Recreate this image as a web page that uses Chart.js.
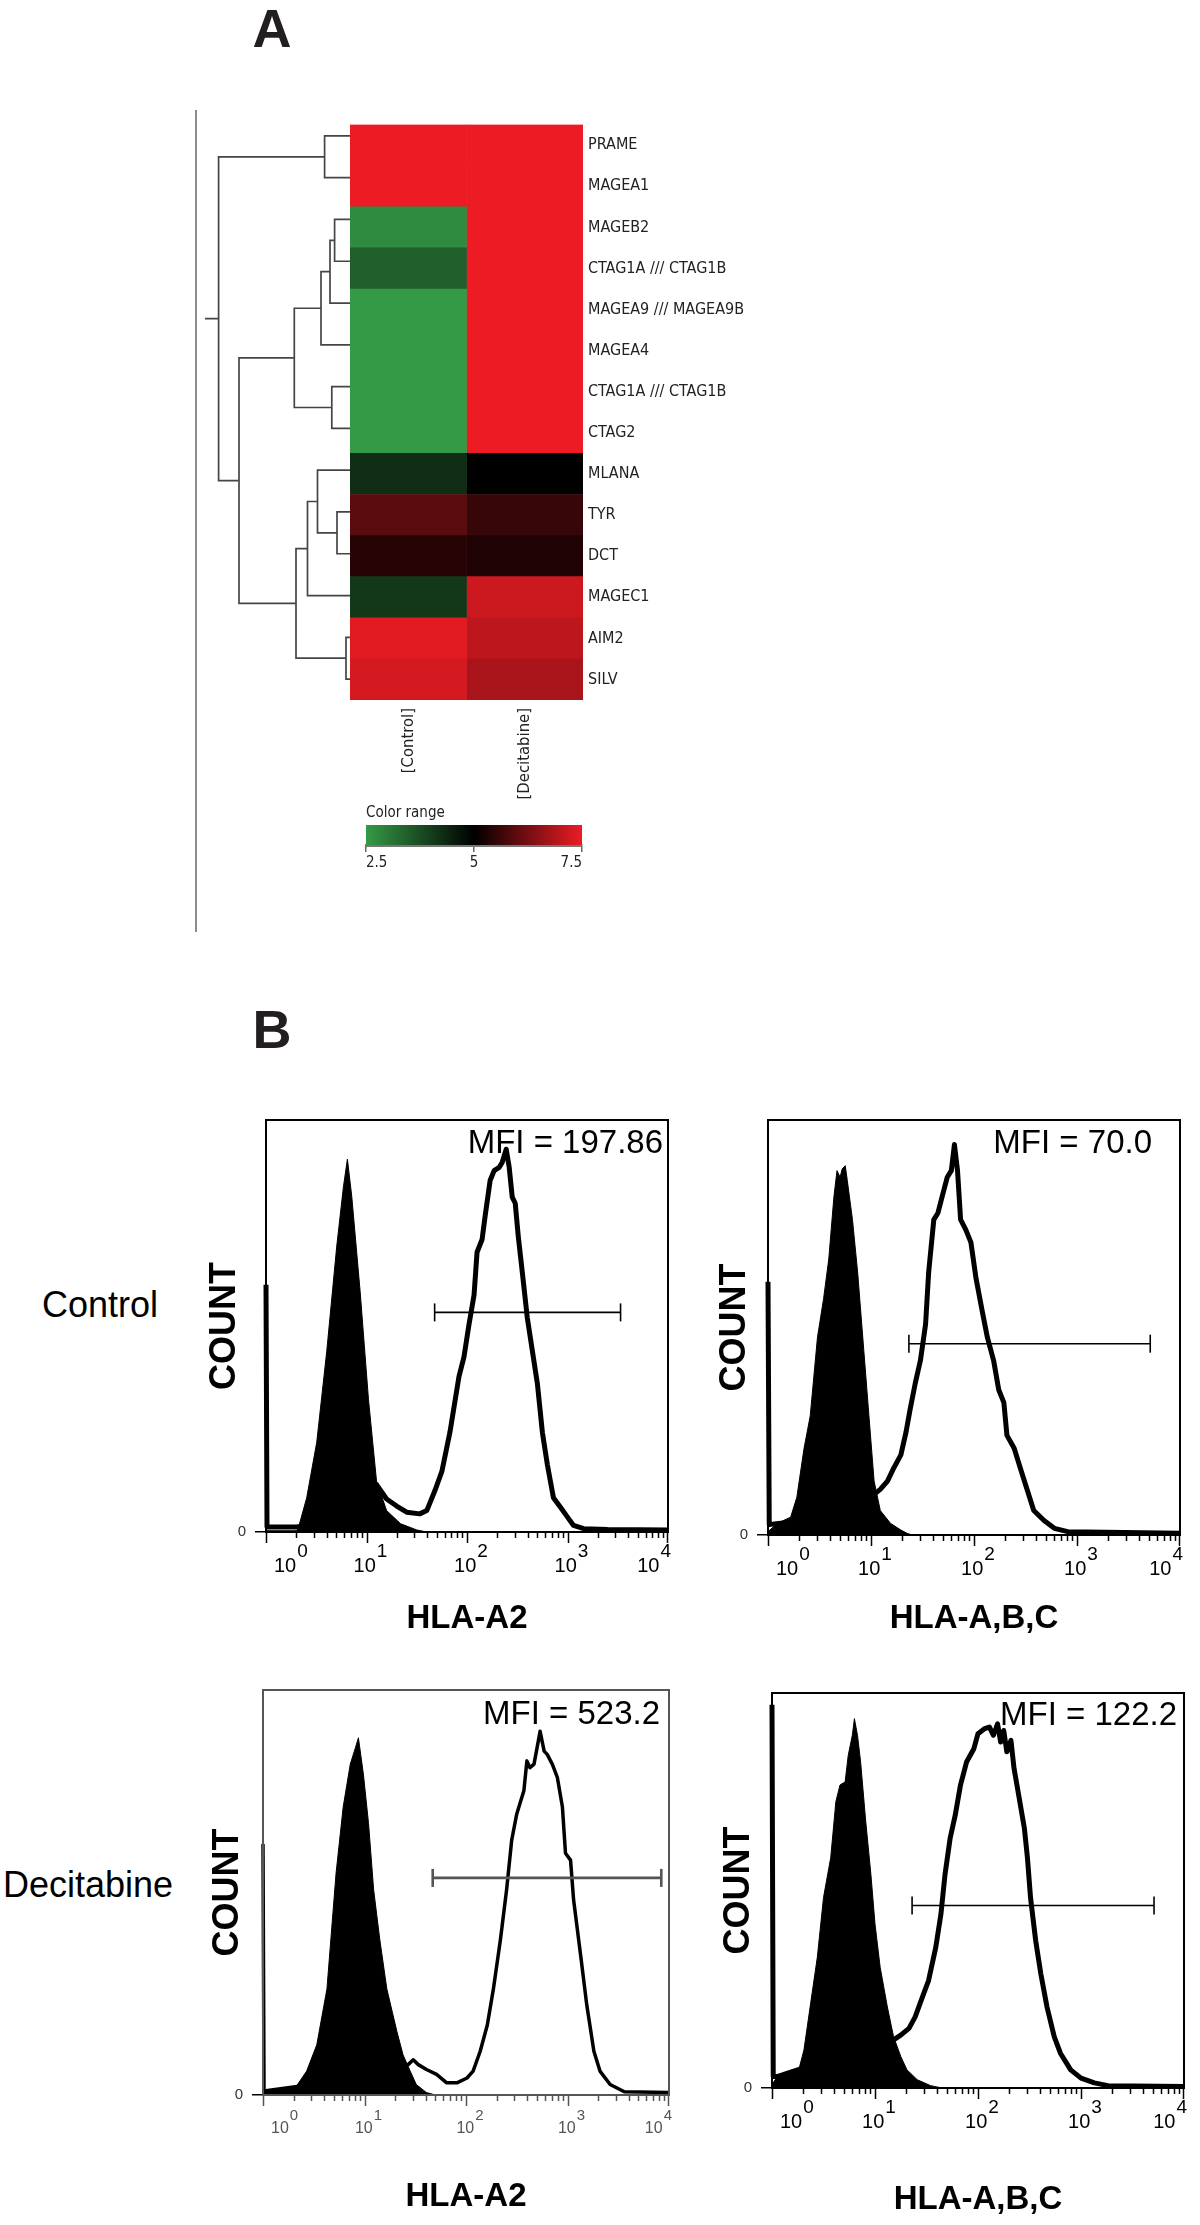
<!DOCTYPE html>
<html><head><meta charset="utf-8">
<script src="https://cdn.jsdelivr.net/npm/chart.js@4.4.1/dist/chart.umd.min.js"></script>
<style>
html,body{margin:0;padding:0;background:#fff;}
body{width:1200px;height:2225px;position:relative;overflow:hidden;font-family:"Liberation Sans",Arial,sans-serif;}
.letter{position:absolute;font-weight:bold;font-size:54px;line-height:54px;width:80px;text-align:center;color:#231f20;}
.rowlab{position:absolute;font-size:36px;line-height:36px;color:#000;white-space:nowrap;}
</style></head><body>
<div class="letter" style="left:232px;top:1px;">A</div>
<div class="letter" style="left:232px;top:1002px;">B</div>
<div style="position:absolute;left:195px;top:110px;width:2px;height:822px;background:#8c8c8c;"></div>
<div class="rowlab" style="left:42px;top:1287px;">Control</div>
<div class="rowlab" style="left:3px;top:1867px;">Decitabine</div>
<script>
// ---------------- Panel A data ----------------
const genes = ['PRAME','MAGEA1','MAGEB2','CTAG1A /// CTAG1B','MAGEA9 /// MAGEA9B','MAGEA4','CTAG1A /// CTAG1B','CTAG2','MLANA','TYR','DCT','MAGEC1','AIM2','SILV'];
const conditions = ['[Control]','[Decitabine]'];
const controlExpr    = [7.5, 7.5, 2.75, 3.45, 2.5, 2.5, 2.5, 2.5, 4.25, 5.95, 5.4, 4.1, 7.38, 7.25];
const decitabineExpr = [7.5, 7.5, 7.5, 7.5, 7.5, 7.5, 7.5, 7.5, 5.0, 5.58, 5.34, 7.15, 7.0, 6.77];
const colorRangeTicks = [2.5, 5, 7.5];
// hierarchical clustering merges: [nodeA, nodeB, distance]; leaves 0..13, new nodes numbered from 14
const dendroMerges = [
  [0, 1, 25.4], [2, 3, 15.4], [15, 4, 20], [16, 5, 29], [6, 7, 18.2], [17, 18, 55.7],
  [9, 10, 13], [8, 20, 32.5], [21, 11, 42.5], [12, 13, 4], [22, 23, 54], [19, 24, 111], [14, 25, 131.4]
];
const dendroRootStub = 145;

// ---------------- Panel B data (x = log10 fluorescence, y = % of max count) ----------------
const decadeValues = [0, 1, 2, 3, 4];
const decadeBase = '10';
const decadeExponents = ['0', '1', '2', '3', '4'];
const countTickLabels = ['0'];
const markerNames = ['HLA-A2','HLA-A,B,C','HLA-A2','HLA-A,B,C'];
const mfiValues = ['197.86','70.0','523.2','122.2'];
const gateStart = [1.678, 1.368, 1.672, 1.360];
const gateEnd   = [3.528, 3.711, 3.924, 3.709];
const gateLevel = [53.3, 46.1, 53.6, 46.2];

const ctrlA2Iso = [[0,0.3],[0.3,0.3],[0.32,0.8],[0.405,8.3],[0.505,21.8],[0.605,44],[0.704,69.4],[0.77,83.7],[0.81,90.5],[0.854,81.3],[0.937,58.3],[1.02,32.1],[1.10,12.3],[1.20,5.2],[1.34,2],[1.50,0.5],[1.6,0]];
const ctrlA2Stain = [[0,60],[0.01,1.2],[0.3,1.2],[0.6,2],[0.9,4],[1.05,9],[1.10,11.5],[1.2,8],[1.30,6.3],[1.40,4.8],[1.53,4.4],[1.60,5.2],[1.68,10],[1.75,14.7],[1.83,24.2],[1.92,37.7],[1.97,42.5],[2.02,50.4],[2.07,57.5],[2.10,67.9],[2.15,71],[2.18,76.6],[2.23,85.3],[2.27,87.7],[2.32,88.5],[2.35,89.7],[2.39,92.9],[2.42,88.5],[2.45,81.3],[2.48,79.8],[2.51,71.8],[2.55,63.1],[2.60,52],[2.65,44],[2.70,36.1],[2.75,24.2],[2.80,16.3],[2.86,8.3],[2.93,6],[3.0,3.6],[3.06,1.6],[3.16,0.8],[3.40,0.6],[4,0.5]];
const ctrlABCIso = [[0,0.8],[0.09,2.8],[0.22,4.3],[0.28,9.1],[0.35,20.9],[0.41,28.7],[0.48,47.6],[0.54,57],[0.59,66.5],[0.64,81.5],[0.67,87.8],[0.70,86.2],[0.72,88.2],[0.75,89],[0.77,85.4],[0.82,76],[0.87,63.4],[0.93,44.5],[0.98,28.7],[1.03,13],[1.09,5.9],[1.19,2.8],[1.29,1.2],[1.35,0.4],[1.4,0]];
const ctrlABCStain = [[0,61],[0.012,2.5],[0.1,2.8],[0.2,3],[0.3,5],[0.6,8],[0.9,9],[1.03,9.8],[1.09,11],[1.16,13],[1.22,16.1],[1.29,19.3],[1.34,24.8],[1.38,30.3],[1.43,36.6],[1.48,42.1],[1.53,50.8],[1.56,63.4],[1.61,76],[1.65,77.6],[1.69,81.5],[1.74,86.2],[1.78,87.8],[1.81,94.1],[1.84,87.8],[1.87,76],[1.92,73.6],[1.97,70.5],[2.02,61.8],[2.08,53.9],[2.13,47.6],[2.19,42.1],[2.24,35],[2.29,31.9],[2.32,24],[2.39,20.9],[2.45,16.1],[2.52,10.6],[2.58,5.9],[2.68,3.5],[2.78,1.6],[2.91,0.8],[4,0.4]];
const decA2Iso = [[0,1],[0.33,2.2],[0.43,5.9],[0.53,12.4],[0.63,26.2],[0.72,54.8],[0.79,71.1],[0.86,81.7],[0.91,85.7],[0.94,88.2],[0.99,79],[1.04,67],[1.09,50.7],[1.15,38.5],[1.22,26.2],[1.32,15.6],[1.38,9.9],[1.45,5.9],[1.51,2.6],[1.61,0.6],[1.7,0]];
const decA2Stain = [[0,62],[0.01,1],[0.3,2],[0.6,3],[1.0,5],[1.3,6],[1.43,7.5],[1.48,8.7],[1.53,7.5],[1.61,6.3],[1.71,5.1],[1.81,3],[1.91,3],[2.01,4.2],[2.07,5.9],[2.14,10.8],[2.21,17.3],[2.27,26.2],[2.34,38.5],[2.40,50.7],[2.45,62.9],[2.50,69.4],[2.57,75.1],[2.60,82.5],[2.63,80.8],[2.67,81.7],[2.70,85.7],[2.73,89.8],[2.77,84.9],[2.80,84.1],[2.85,81.7],[2.90,78.4],[2.95,71.1],[2.98,59.7],[3.03,58],[3.06,48.2],[3.13,34.4],[3.19,22.2],[3.26,10.8],[3.32,5.9],[3.42,2.6],[3.56,0.8],[4,0.6]];
const decABCIso = [[0,0.8],[0.05,2.9],[0.18,3.4],[0.26,4.6],[0.31,9.6],[0.37,20.5],[0.44,33.1],[0.50,48.2],[0.57,58.3],[0.62,72.5],[0.66,76.7],[0.71,77.5],[0.74,84.2],[0.78,89.3],[0.80,93.5],[0.83,89.3],[0.86,82.6],[0.91,67.5],[0.96,54.1],[1.0,41.5],[1.05,30.6],[1.12,20.5],[1.18,13],[1.25,8],[1.31,4.6],[1.41,2.1],[1.54,0.6],[1.65,0]];
const decABCStain = [[0,97],[0.012,2.9],[0.05,2.9],[0.3,5],[0.8,8],[1.1,11],[1.18,12.2],[1.25,13.4],[1.33,15.1],[1.39,18],[1.46,23],[1.52,27.2],[1.59,35.6],[1.64,44],[1.68,54.1],[1.73,63.3],[1.78,69.2],[1.83,76.7],[1.89,82.6],[1.96,85.9],[2.0,89.7],[2.06,90.9],[2.11,91.4],[2.15,89.3],[2.19,92.2],[2.22,87.6],[2.25,90.5],[2.28,85.1],[2.32,88],[2.35,80.9],[2.40,73.4],[2.45,65.8],[2.48,58.3],[2.51,48.2],[2.56,37.3],[2.61,28.9],[2.67,20.5],[2.74,13],[2.80,8.8],[2.90,4.6],[3.0,2.5],[3.13,1.3],[3.26,0.6],[4,0.4]];

// ---------------- helpers ----------------
Chart.defaults.font.family = '"Liberation Sans", Arial, sans-serif';
Chart.defaults.animation = false;
const SMALL = '"DejaVu Sans Condensed", "DejaVu Sans", sans-serif';

function place(id, left, top, w, h) {
  const c = document.createElement('canvas');
  c.id = id; c.width = w; c.height = h;
  c.style.cssText = `position:absolute;left:${left}px;top:${top}px;width:${w}px;height:${h}px;`;
  document.body.appendChild(c);
  return c;
}
const lowRGB = [52, 154, 70], midRGB = [0, 0, 0], highRGB = [237, 28, 36];
function exprColor(v) {
  const t = Math.max(0, Math.min(1, (v - colorRangeTicks[0]) / (colorRangeTicks[2] - colorRangeTicks[0])));
  let c;
  if (t < 0.5) { const u = t / 0.5; c = lowRGB.map((l, i) => l + (midRGB[i] - l) * u); }
  else { const u = (t - 0.5) / 0.5; c = midRGB.map((m, i) => m + (highRGB[i] - m) * u); }
  return `rgb(${c.map(Math.round).join(',')})`;
}

// ---------------- Dendrogram ----------------
const nodeY = genes.map((_, i) => i), nodeH = genes.map(() => 0);
const dendroPts = [];
dendroMerges.forEach(([a, b, h]) => {
  const ya = nodeY[a], yb = nodeY[b];
  dendroPts.push({x: nodeH[a], y: ya}, {x: h, y: ya}, {x: h, y: yb}, {x: nodeH[b], y: yb}, {x: null, y: null});
  nodeY.push((ya + yb) / 2); nodeH.push(h);
});
const rootId = nodeY.length - 1;
dendroPts.push({x: nodeH[rootId], y: nodeY[rootId]}, {x: dendroRootStub, y: nodeY[rootId]});

new Chart(place('dendro', 190, 110, 160, 595), {
  type: 'scatter',
  data: { datasets: [{ data: dendroPts, showLine: true, spanGaps: false, borderColor: '#454545', borderWidth: 1.7, pointRadius: 0, clip: 3 }] },
  options: {
    responsive: false, layout: { padding: { top: 5, bottom: 5, left: 0, right: 0 } },
    plugins: { legend: { display: false }, tooltip: { enabled: false } },
    scales: {
      x: { type: 'linear', min: 0, max: 160, reverse: true, display: false },
      y: { type: 'linear', min: -0.5, max: genes.length - 0.5, reverse: true, display: false }
    }
  }
});

// ---------------- Heatmap ----------------
new Chart(place('heatmap', 350, 110, 420, 720), {
  type: 'bar',
  data: {
    labels: genes,
    datasets: [
      { label: conditions[0], data: genes.map(() => [0, 1]), backgroundColor: ctx => exprColor(controlExpr[ctx.dataIndex]) },
      { label: conditions[1], data: genes.map(() => [1, 2]), backgroundColor: ctx => exprColor(decitabineExpr[ctx.dataIndex]) }
    ].map(d => Object.assign(d, { grouped: false, barPercentage: 1, categoryPercentage: 1, borderWidth: 0 }))
  },
  options: {
    responsive: false, indexAxis: 'y',
    layout: { padding: { top: 5, left: 0, right: 0, bottom: 0 } },
    plugins: { legend: { display: false }, tooltip: { enabled: false } },
    scales: {
      x: {
        type: 'linear', min: 0, max: 2,
        afterBuildTicks: s => { s.ticks = [0.5, 1.5].map(v => ({ value: v })); },
        ticks: { callback: (v, i) => conditions[i], minRotation: 90, maxRotation: 90, autoSkip: false, padding: 8, font: { family: SMALL, size: 16.5 }, color: '#222' },
        grid: { display: false, drawTicks: false }, border: { display: false },
        afterFit: s => { s.height = 130; }
      },
      y: {
        position: 'right',
        ticks: { padding: 5, font: { family: SMALL, size: 16 }, color: '#222', autoSkip: false },
        grid: { display: false, drawTicks: false }, border: { display: false },
        afterFit: s => { s.width = 187; }
      }
    }
  }
});

// ---------------- Color range legend ----------------
new Chart(place('legendbar', 352, 796, 238, 84), {
  type: 'bar',
  data: {
    labels: ['range'],
    datasets: [{
      data: [[colorRangeTicks[0], colorRangeTicks[2]]], barPercentage: 1, categoryPercentage: 1, borderWidth: 0,
      backgroundColor: ctx => {
        const ch = ctx.chart; if (!ch.chartArea) return '#000';
        const xs = ch.scales.x;
        const x0 = xs.getPixelForValue(colorRangeTicks[0]), x1 = xs.getPixelForValue(colorRangeTicks[2]);
        const g = ch.ctx.createLinearGradient(x0, 0, x1, 0);
        for (let i = 0; i <= 10; i++) {
          const v = colorRangeTicks[0] + (colorRangeTicks[2] - colorRangeTicks[0]) * i / 10;
          g.addColorStop(i / 10, exprColor(v));
        }
        return g;
      }
    }]
  },
  options: {
    responsive: false, indexAxis: 'y',
    layout: { padding: { left: 14, right: 8, top: 0, bottom: 0 } },
    plugins: {
      legend: { display: false }, tooltip: { enabled: false },
      title: { display: true, text: 'Color range', align: 'start', color: '#222', font: { family: SMALL, size: 15, weight: 'normal' }, padding: { top: 8, bottom: 3 } }
    },
    scales: {
      x: {
        type: 'linear', min: colorRangeTicks[0], max: colorRangeTicks[2],
        afterBuildTicks: s => { s.ticks = colorRangeTicks.map(v => ({ value: v })); },
        ticks: { align: 'inner', padding: 2, font: { family: SMALL, size: 15 }, color: '#222', callback: v => String(v) },
        grid: { display: true, drawOnChartArea: false, drawTicks: true, tickLength: 7, color: '#666', lineWidth: 1.5 },
        border: { display: true, color: '#777', width: 3 },
        afterFit: s => { s.height = 35; }
      },
      y: { display: false }
    }
  }
});

// ---------------- Flow cytometry histograms ----------------
const histDecor = {
  id: 'histDecor',
  afterDraw(chart, args, o) {
    const { ctx, chartArea: a, scales: { x } } = chart;
    ctx.save();
    // minor / major tick marks along the log axis
    ctx.strokeStyle = o.tickColor; ctx.lineWidth = 1.5;
    ctx.beginPath();
    const last = decadeValues[decadeValues.length - 1];
    for (let k = decadeValues[0]; k < last; k++) {
      for (let m = 1; m <= 9; m++) {
        const px = Math.round(x.getPixelForValue(k + Math.log10(m))) + 0.5;
        ctx.moveTo(px, a.bottom); ctx.lineTo(px, a.bottom + (m === 1 ? 11 : 6));
      }
    }
    const pe = Math.round(x.getPixelForValue(last)) - 0.5;
    ctx.moveTo(pe, a.bottom); ctx.lineTo(pe, a.bottom + 11);
    ctx.stroke();
    // decade labels 10^n
    ctx.fillStyle = o.tickColor; ctx.textBaseline = 'alphabetic'; ctx.textAlign = 'left';
    const bf = `${o.tf}px "Liberation Sans", Arial, sans-serif`, ef = `${o.tf - 1}px "Liberation Sans", Arial, sans-serif`;
    decadeValues.forEach((v, i) => {
      const px = x.getPixelForValue(v);
      ctx.font = bf; const wb = ctx.measureText(decadeBase).width;
      ctx.font = ef; const we = ctx.measureText(decadeExponents[i]).width;
      const gw = wb + 1 + we;
      let gl;
      if (i === 0) gl = px + 8;
      else if (i === decadeValues.length - 1) gl = px + 3 - gw;
      else gl = px + 4 - gw / 2;
      ctx.font = bf; ctx.fillText(decadeBase, gl, a.bottom + o.by);
      ctx.font = ef; ctx.fillText(decadeExponents[i], gl + wb + 1, a.bottom + o.ey);
    });
    // frame
    ctx.strokeStyle = o.frameColor; ctx.lineWidth = o.frameWidth;
    ctx.strokeRect(a.left, a.top, a.right - a.left, a.bottom - a.top);
    // MFI annotation
    ctx.fillStyle = '#000'; ctx.font = '33px "Liberation Sans", Arial, sans-serif';
    ctx.textAlign = 'right'; ctx.textBaseline = 'alphabetic';
    ctx.fillText(o.text, a.right - o.dx, a.top + o.dy);
    ctx.restore();
  }
};

const panels = [
  { area: { l: 266, t: 1112, r: 668, b: 1532 }, iso: ctrlA2Iso, stain: ctrlA2Stain, st: { dx: 5, dy: 33, xPad: 26.5, yPad: 11, lw: 5, gc: '#000', gw: 1.6, fc: '#000', tc: '#000', tf: 20, by: 40, ey: 25 } },
  { area: { l: 768, t: 1112, r: 1180, b: 1535 }, iso: ctrlABCIso, stain: ctrlABCStain, st: { dx: 28, dy: 33, xPad: 29.5, yPad: 19, lw: 5, gc: '#000', gw: 1.6, fc: '#000', tc: '#000', tf: 20, by: 40, ey: 25 } },
  { area: { l: 263, t: 1682, r: 669, b: 2095 }, iso: decA2Iso, stain: decA2Stain, st: { dx: 9, dy: 34, xPad: 11.5, yPad: 17, lw: 3.5, gc: '#555', gw: 2.6, fc: '#555', tc: '#555', tf: 16, by: 38, ey: 25 } },
  { area: { l: 772, t: 1685, r: 1184, b: 2088 }, iso: decABCIso, stain: decABCStain, st: { dx: 7, dy: 32, xPad: 1.5, yPad: 19, lw: 5, gc: '#000', gw: 1.6, fc: '#000', tc: '#000', tf: 20, by: 40, ey: 25 } }
];

panels.forEach((p, i) => {
  const { l, t, r, b } = p.area, s = p.st;
  const YW = 70, XH = 130;
  const cv = place('hist' + i, l - YW, t - 10, (r - l) + YW + 15, (b - t) + 10 + XH);
  new Chart(cv, {
    type: 'scatter',
    data: {
      datasets: [
        { label: 'gate', data: [{ x: gateStart[i], y: gateLevel[i] }, { x: gateEnd[i], y: gateLevel[i] }], showLine: true,
          borderColor: s.gc, borderWidth: s.gw, pointStyle: 'line', pointRadius: 9, rotation: 90,
          pointBorderColor: s.gc, pointBorderWidth: s.gw, pointBackgroundColor: s.gc, order: 0 },
        { label: 'isotype', data: p.iso.map(([x, y]) => ({ x, y })), showLine: true, fill: 'origin',
          backgroundColor: '#000', borderColor: '#000', borderWidth: 1, pointRadius: 0, tension: 0, order: 1 },
        { label: 'stained', data: p.stain.map(([x, y]) => ({ x, y })), showLine: true, fill: false,
          borderColor: '#000', borderWidth: s.lw, borderJoinStyle: 'round', pointRadius: 0, tension: 0, order: 2, clip: 4 }
      ]
    },
    options: {
      responsive: false,
      layout: { padding: { top: 10, right: 15, left: 0, bottom: 0 } },
      plugins: { legend: { display: false }, tooltip: { enabled: false },
        histDecor: { text: 'MFI = ' + mfiValues[i], dx: s.dx, dy: s.dy, tickColor: s.tc, frameColor: s.fc, frameWidth: 2, tf: s.tf, by: s.by, ey: s.ey } },
      scales: {
        x: {
          type: 'linear', min: decadeValues[0], max: decadeValues[decadeValues.length - 1],
          afterBuildTicks: sc => { sc.ticks = decadeValues.map(v => ({ value: v })); },
          ticks: { display: false },
          grid: { display: false, drawTicks: false }, border: { display: false },
          title: { display: true, text: markerNames[i], color: '#000', font: { size: 33, weight: 'bold', lineHeight: 1 }, padding: { top: 0, bottom: s.xPad } },
          afterFit: sc => { sc.height = XH; }
        },
        y: {
          type: 'linear', min: 0, max: 100,
          afterBuildTicks: sc => { sc.ticks = [{ value: 0 }]; },
          ticks: { callback: () => countTickLabels[0], padding: 9, font: { size: 15 }, color: '#333' },
          grid: { display: true, drawOnChartArea: false, drawTicks: true, tickLength: 11, color: '#000', lineWidth: 1.5 },
          border: { display: false },
          title: { display: true, text: 'COUNT', color: '#000', font: { size: 36, weight: 'bold', lineHeight: 1 }, padding: s.yPad },
          afterFit: sc => { sc.width = YW; }
        }
      }
    },
    plugins: [histDecor]
  });
});
</script>
</body></html>
